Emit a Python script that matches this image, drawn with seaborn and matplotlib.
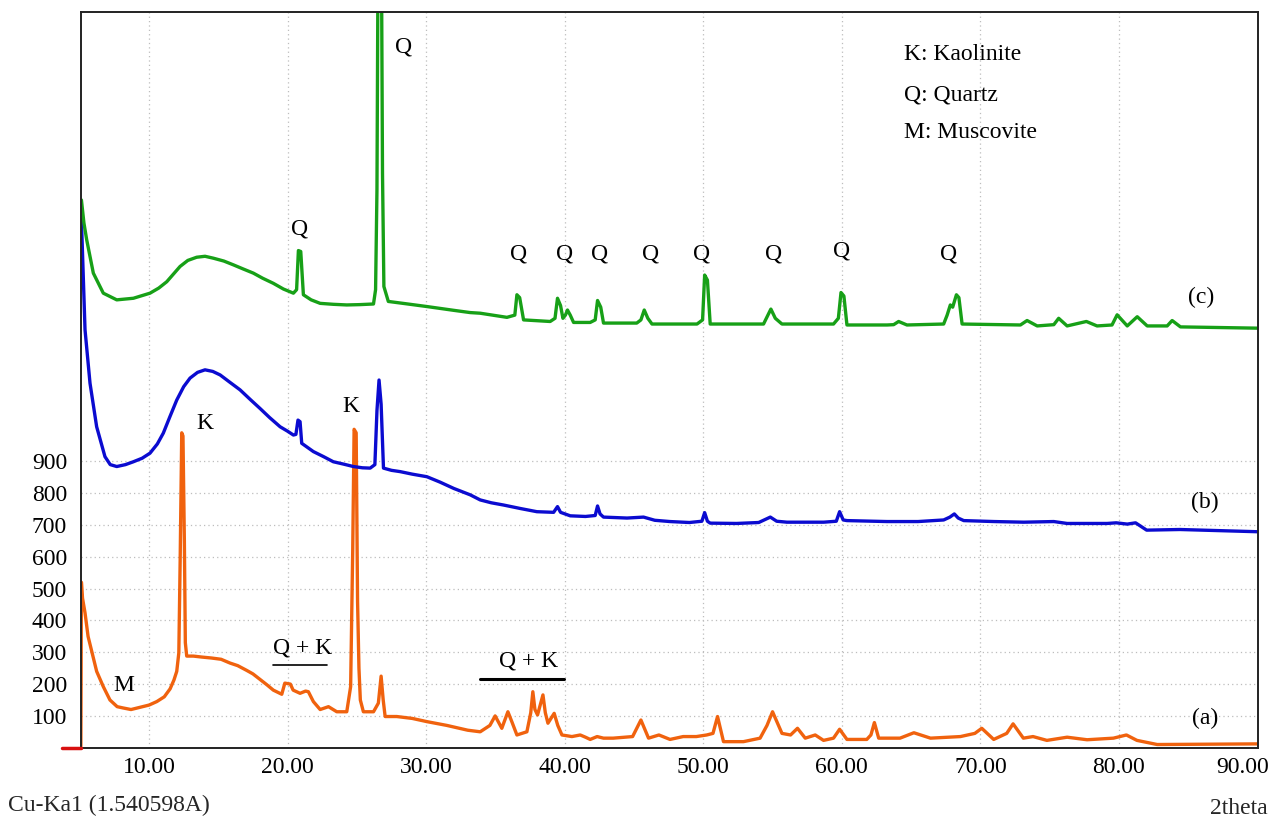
import numpy as np
import pandas as pd
import matplotlib
matplotlib.use("Agg")
import matplotlib.pyplot as plt
import matplotlib.transforms as mtransforms
import seaborn as sns

# ---------------- data (2theta, intensity) ----------------
trace_a = [
    (5.08, 0), (5.12, 520), (5.2, 470), (5.38, 424), (5.6, 350), (5.9, 297), (6.22, 240),
    (6.7, 192), (7.18, 150), (7.7, 129), (8.12, 125), (8.7, 120), (9.35, 127), (10.0, 134),
    (10.56, 145), (11.1, 160), (11.52, 185), (11.8, 213), (12.0, 240), (12.15, 298),
    (12.25, 600), (12.36, 990), (12.45, 980), (12.55, 650), (12.62, 330), (12.72, 288),
    (13.2, 288), (13.8, 285), (14.5, 282), (15.2, 278), (15.85, 266), (16.4, 258),
    (17.05, 243), (17.5, 232), (18.0, 215), (18.5, 198), (18.97, 181), (19.58, 168),
    (19.8, 203), (20.2, 200), (20.4, 181), (20.9, 171), (21.3, 178), (21.5, 176),
    (21.86, 145), (22.35, 120), (22.95, 129), (23.55, 113), (24.27, 113), (24.55, 192),
    (24.7, 620), (24.8, 1001), (24.95, 990), (25.05, 460), (25.15, 250), (25.25, 150),
    (25.47, 113), (26.2, 113), (26.55, 140), (26.75, 225), (26.9, 150), (27.04, 98),
    (27.88, 98), (29.0, 92), (30.05, 82), (31.5, 70), (33.0, 55), (33.9, 50), (34.6, 70),
    (34.98, 100), (35.46, 61), (35.9, 113), (36.2, 80), (36.55, 40), (37.27, 50),
    (37.55, 110), (37.7, 176), (37.85, 120), (38.04, 103), (38.43, 166), (38.6, 110),
    (38.79, 77), (39.24, 108), (39.5, 70), (39.8, 40), (40.52, 35), (41.12, 40),
    (41.5, 33), (41.84, 26), (42.34, 35), (42.8, 30), (43.5, 30), (44.9, 35), (45.5, 87),
    (46.05, 30), (46.8, 40), (47.6, 26), (48.55, 35), (49.5, 35), (50.25, 40), (50.7, 45),
    (51.03, 98), (51.46, 19), (52.9, 19), (54.1, 30), (54.6, 70), (55.0, 113), (55.68, 45),
    (56.3, 40), (56.8, 61), (57.36, 30), (58.08, 40), (58.68, 23), (59.4, 30), (59.84, 58),
    (60.37, 26), (61.8, 26), (62.1, 40), (62.35, 79), (62.66, 30), (64.2, 30), (65.2, 47),
    (66.4, 30), (68.56, 35), (69.6, 45), (70.1, 61), (70.96, 26), (71.9, 45), (72.36, 75),
    (73.1, 30), (73.8, 35), (74.8, 23), (76.26, 33), (77.7, 25), (79.6, 30), (80.54, 40),
    (81.3, 23), (82.76, 10), (90.0, 12),
]

trace_b = [
    (5.12, 1660), (5.38, 1314), (5.74, 1146), (6.22, 1009), (6.82, 915), (7.2, 890),
    (7.67, 884), (8.3, 890), (8.87, 899), (9.5, 910), (10.07, 926), (10.6, 955),
    (11.03, 989), (11.5, 1040), (12.0, 1093), (12.5, 1135), (12.96, 1162), (13.5, 1180),
    (14.04, 1188), (14.6, 1183), (15.13, 1172), (15.8, 1150), (16.57, 1125), (17.3, 1095),
    (18.0, 1067), (18.7, 1038), (19.46, 1009), (20.0, 995), (20.42, 983), (20.6, 985),
    (20.75, 1030), (20.9, 1025), (21.02, 957), (21.86, 931), (22.6, 915), (23.3, 899),
    (24.0, 892), (24.75, 884), (25.4, 880), (25.96, 879), (26.3, 890), (26.45, 1060),
    (26.6, 1156), (26.75, 1080), (26.92, 879), (27.5, 872), (28.12, 868), (29.0, 860),
    (30.05, 852), (31.0, 835), (32.0, 815), (33.18, 795), (33.9, 779), (34.7, 770),
    (35.58, 763), (36.8, 752), (37.99, 742), (39.2, 740), (39.48, 758), (39.7, 740),
    (40.4, 729), (41.5, 727), (42.2, 730), (42.37, 760), (42.55, 735), (42.8, 725),
    (44.5, 722), (45.69, 725), (46.5, 715), (47.6, 711), (49.0, 708), (49.9, 712),
    (50.1, 739), (50.3, 712), (50.5, 706), (52.4, 705), (54.0, 708), (54.84, 725),
    (55.3, 712), (56.04, 709), (58.69, 709), (59.6, 712), (59.84, 742), (60.1, 716),
    (60.37, 714), (63.26, 711), (65.5, 711), (67.35, 716), (67.8, 725), (68.12, 735),
    (68.4, 722), (68.8, 714), (71.0, 711), (73.13, 709), (75.3, 711), (76.26, 705),
    (79.15, 705), (79.8, 707), (80.6, 703), (81.2, 707), (82.0, 684), (84.4, 686),
    (86.8, 683), (90.0, 679),
]

trace_c = [
    (5.12, 1722), (5.3, 1650), (5.5, 1597), (5.98, 1492), (6.7, 1429), (7.67, 1408),
    (8.87, 1413), (10.07, 1429), (10.7, 1445), (11.28, 1465), (12.24, 1513), (12.8, 1532),
    (13.44, 1542), (14.04, 1545), (14.64, 1539), (15.4, 1530), (16.09, 1518), (16.8, 1505),
    (17.53, 1492), (18.2, 1476), (18.97, 1460), (19.7, 1442), (20.42, 1429), (20.65, 1440),
    (20.78, 1563), (20.95, 1560), (21.14, 1424), (21.7, 1408), (22.35, 1397), (23.3, 1394),
    (24.27, 1392), (25.2, 1393), (26.2, 1395), (26.35, 1440), (26.45, 1754), (26.55, 2700),
    (26.75, 2700), (26.85, 1806), (26.95, 1450), (27.27, 1403), (28.5, 1396), (30.05, 1387),
    (32.0, 1375), (33.18, 1368), (33.9, 1366), (35.83, 1353), (36.4, 1360), (36.55, 1424),
    (36.75, 1415), (37.03, 1345), (38.95, 1340), (39.3, 1350), (39.48, 1413), (39.7, 1390),
    (39.87, 1350), (40.05, 1360), (40.2, 1376), (40.4, 1360), (40.64, 1337), (41.84, 1337),
    (42.2, 1345), (42.37, 1406), (42.6, 1385), (42.8, 1335), (45.2, 1335), (45.5, 1345),
    (45.74, 1376), (46.0, 1350), (46.3, 1332), (49.55, 1332), (49.95, 1345), (50.1, 1486),
    (50.3, 1470), (50.5, 1332), (54.35, 1332), (54.88, 1379), (55.2, 1350), (55.68, 1332),
    (59.4, 1332), (59.75, 1350), (59.94, 1431), (60.15, 1420), (60.37, 1329), (63.26, 1329),
    (63.74, 1330), (64.1, 1340), (64.7, 1329), (67.35, 1332), (67.6, 1360), (67.83, 1392),
    (68.0, 1385), (68.27, 1424), (68.45, 1415), (68.68, 1332), (72.89, 1329), (73.37, 1343),
    (74.1, 1326), (75.3, 1330), (75.65, 1350), (76.26, 1326), (77.65, 1340), (78.42, 1326),
    (79.5, 1329), (79.87, 1361), (80.6, 1326), (81.32, 1355), (82.04, 1326), (83.48, 1326),
    (83.84, 1343), (84.44, 1323), (90.0, 1319),
]

baseline_stub = [(3.72, 0), (5.09, 0)]

x_ticks = [10, 20, 30, 40, 50, 60, 70, 80, 90]
y_ticks = [100, 200, 300, 400, 500, 600, 700, 800, 900]

legend_lines = ["K: Kaolinite", "Q: Quartz", "M: Muscovite"]
legend_pos = [(64.5, 2178), (64.5, 2053), (64.5, 1933)]

peak_labels = [
    ("Q", 28.4, 2203), ("Q", 20.9, 1631),
    ("Q", 36.7, 1552), ("Q", 40.0, 1552), ("Q", 42.5, 1552), ("Q", 46.2, 1552),
    ("Q", 49.86, 1552), ("Q", 55.05, 1552), ("Q", 60.0, 1562), ("Q", 67.7, 1552),
    ("K", 14.04, 1020), ("K", 24.58, 1074), ("M", 8.2, 197),
    ("Q + K", 21.05, 313), ("Q + K", 37.36, 272),
    ("(c)", 85.9, 1414), ("(b)", 86.2, 772), ("(a)", 86.2, 93),
]
underlines = [((18.95, 22.85), 260, 1.2), ((33.9, 39.96), 216, 2.2)]

colors = {"a": "#f0620e", "b": "#0b0bd0", "c": "#17a017"}

FS = 17

# ---------------- figure ----------------
sns.set_theme(style="white")
plt.rcParams["font.family"] = ["Liberation Serif", "DejaVu Serif"]

fig = plt.figure(figsize=(12.79, 8.18), dpi=100)
ax = fig.add_axes([81 / 1279, 1 - 747.7 / 818, (1257.5 - 81) / 1279, (747.7 - 12) / 818])

frames = []
for name, tr in [("a", trace_a), ("b", trace_b), ("c", trace_c)]:
    df = pd.DataFrame(tr, columns=["theta", "counts"])
    df["series"] = name
    frames.append(df)
data = pd.concat(frames, ignore_index=True)

for name in ["a", "b", "c"]:
    sub = data[data["series"] == name]
    sns.lineplot(data=sub, x="theta", y="counts", color=colors[name], lw=2.4,
                 estimator=None, sort=False, ax=ax, legend=False)

bx, by = zip(*baseline_stub)
ax.plot(bx, by, color="#d81010", lw=2.5, clip_on=False, zorder=5)

ax.set_xlim(5.09, 90.0)
ax.set_ylim(0, 2313)
ax.set_xticks(x_ticks)
ax.set_xticklabels([f"{v:.2f}" for v in x_ticks])
ax.set_yticks(y_ticks)
ax.set_yticklabels([str(v) for v in y_ticks])
ax.set_xlabel("")
ax.set_ylabel("")
ax.tick_params(axis="x", direction="inout", length=7, width=1.0, labelsize=FS, pad=3,
               colors="#222222", labelcolor="black")
ax.tick_params(axis="y", direction="out", length=8, width=1.0, labelsize=FS, pad=2,
               colors="#222222", labelcolor="black")

# last x label sits slightly inside, as in the reference
last = ax.get_xticklabels()[-1]
last.set_transform(last.get_transform() + mtransforms.ScaledTranslation(-15 / 100, 0, fig.dpi_scale_trans))

for v in x_ticks[:-1]:
    ax.axvline(v, color="#bdbdbd", lw=0.9, ls=(0, (1, 2.5)), zorder=0)
for v in y_ticks:
    ax.axhline(v, color="#bdbdbd", lw=0.9, ls=(0, (1, 2.5)), zorder=0)

for s in ax.spines.values():
    s.set_visible(True)
    s.set_color("#222222")
    s.set_linewidth(1.4)

for txt, (lx, ly) in zip(legend_lines, legend_pos):
    ax.text(lx, ly, txt, fontsize=FS, ha="left", va="center", color="black")
for txt, lx, ly in peak_labels:
    ax.text(lx, ly, txt, fontsize=FS, ha="center", va="center", color="black")
for (x0, x1), yy, lw in underlines:
    ax.plot([x0, x1], [yy, yy], color="black", lw=lw)

fig.text(8 / 1279, 1 - 805 / 818, "Cu-Ka1 (1.540598A)", fontsize=FS, ha="left", va="center")
fig.text(1268 / 1279, 1 - 808 / 818, "2theta", fontsize=FS, ha="right", va="center")

fig.savefig("out.png", dpi=100)
